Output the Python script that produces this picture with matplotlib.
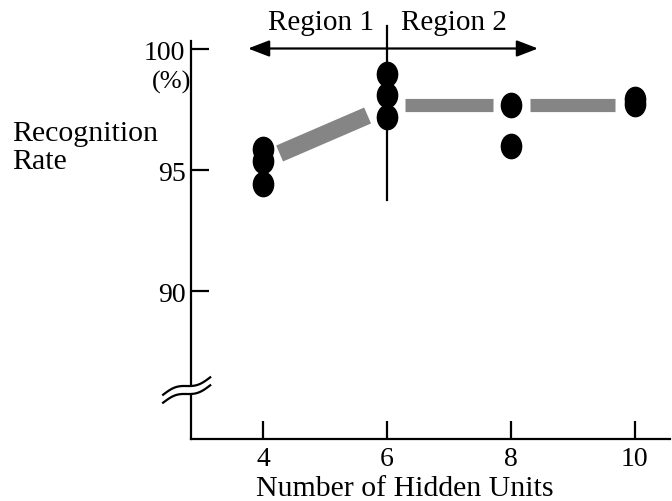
import numpy as np
import matplotlib
matplotlib.use("Agg")
import matplotlib.pyplot as plt
from matplotlib.path import Path
from matplotlib.transforms import Affine2D

plt.rcParams["font.family"] = ["Liberation Serif", "DejaVu Serif"]

# data
hidden_units = [4, 4, 4, 6, 6, 6, 8, 8, 10, 10]
recognition = [95.9, 95.4, 94.45, 99.0, 98.1, 97.2, 97.7, 96.0, 97.75, 97.95]

# shaded trend segments
trend_x = [[4.27, 5.69], [6.29, 7.71], [8.31, 9.68]]
trend_y = [[95.7, 97.27], [97.7, 97.7], [97.7, 97.7]]
trend_w = [12.5, 9.5, 9.5]

xticks = [4, 6, 8, 10]
yticks = [90, 95, 100]
region_split = 6
arrow_span = [3.76, 8.44]

fig = plt.figure(figsize=(6.72, 5.02), dpi=100)
ax = fig.add_axes([191 / 672, 1 - 440 / 502, 479 / 672, 398 / 502])
ax.set_xlim(2.84, 10.57)
ax.set_ylim(83.9, 100.35)

for s in ["top", "right"]:
    ax.spines[s].set_visible(False)
for s in ["left", "bottom"]:
    ax.spines[s].set_linewidth(1.6)

ax.set_xticks(xticks)
ax.set_yticks(yticks)
ax.set_yticklabels(["90", "95", "100"])
ax.tick_params(direction="in", length=13, width=1.6, labelsize=20, pad=4)
ax.tick_params(axis="x", pad=5)

# trend bands
for xs, ys, w in zip(trend_x, trend_y, trend_w):
    ax.plot(xs, ys, color="#858585", lw=w, solid_capstyle="butt", zorder=2)

# points (slightly tall ellipses)
circ = Path.unit_circle()
oval = circ.transformed(Affine2D().scale(1.0, 1.2))
ax.plot(hidden_units, recognition, linestyle="none", marker=oval,
        markersize=17.5, color="black", zorder=3)

# region divider and arrow
ax.plot([region_split, region_split], [93.76, 100.95], color="black",
        lw=1.6, clip_on=False, zorder=4)
ax.annotate("", xy=(arrow_span[0], 100.04), xytext=(arrow_span[1], 100.04),
            arrowprops=dict(arrowstyle="<|-|>,head_length=1.3,head_width=0.5",
                            color="black", lw=1.6, shrinkA=0, shrinkB=0),
            annotation_clip=False)
ax.text(5.8, 100.6, "Region 1", ha="right", va="bottom", fontsize=21)
ax.text(6.23, 100.6, "Region 2", ha="left", va="bottom", fontsize=21)

# axis break
t = np.linspace(0, 1, 60)
bx = 2.39 + 0.76 * t
base = 85.4 + 0.72 * t + 0.12 * np.sin(2 * np.pi * t)
ax.fill_between(bx, base + 0.05, base + 0.28, color="white", clip_on=False, zorder=4)
for off in [0.0, 0.33]:
    ax.plot(bx, base + off, color="black", lw=1.6, clip_on=False, zorder=5)

fig.text(191 / 672, 1 - 82 / 502, "(%)", ha="right", va="center", fontsize=19)
fig.text(12 / 672, 1 - 134 / 502, "Recognition", ha="left", va="center", fontsize=21.5)
fig.text(12 / 672, 1 - 162 / 502, "Rate", ha="left", va="center", fontsize=21.5)
fig.text(405 / 672, 1 - 496 / 502, "Number of Hidden Units", ha="center",
         va="baseline", fontsize=21.5)

fig.savefig("out.png", dpi=100, facecolor="white")
